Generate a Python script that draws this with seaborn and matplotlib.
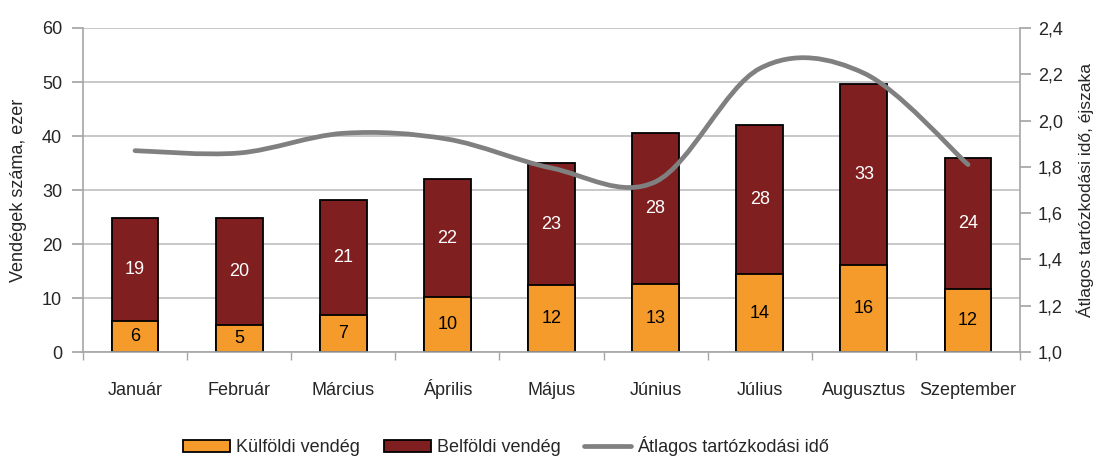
import numpy as np
import pandas as pd
import matplotlib
matplotlib.use("Agg")
import matplotlib.pyplot as plt
import seaborn as sns
from matplotlib.path import Path
from matplotlib.patches import PathPatch, Patch
from matplotlib.lines import Line2D
from matplotlib.ticker import FuncFormatter

# ==================== adatok ====================
honapok = ["Január", "Február", "Március", "Április", "Május",
           "Június", "Július", "Augusztus", "Szeptember"]
kulfoldi = [5.7, 5.0, 6.9, 10.2, 12.4, 12.6, 14.4, 16.2, 11.6]
belfoldi = [19.1, 19.8, 21.2, 21.8, 22.6, 28.0, 27.7, 33.4, 24.3]
atlag_ido = [1.87, 1.86, 1.945, 1.92, 1.795, 1.736, 2.225, 2.205, 1.81]

NARANCS = "#F59B2B"
BORDO = "#7F1F1F"
SZURKE = "#808080"
RACS = "#BFBFBF"
TENGELY = "#A6A6A6"

sns.set_theme(style="white")
plt.rcParams["font.family"] = ["Liberation Sans", "DejaVu Sans"]

df = pd.DataFrame({"honap": honapok, "kulfoldi": kulfoldi, "belfoldi": belfoldi})
df["osszes"] = df["kulfoldi"] + df["belfoldi"]

fig, ax = plt.subplots(figsize=(11.03, 4.59), dpi=100)
fig.subplots_adjust(left=0.0752, right=0.9248, top=0.939, bottom=0.233)

# rácsvonalak
ax.set_axisbelow(True)
ax.yaxis.grid(True, color=RACS, linewidth=1.2)

# halmozott oszlopok: teljes (bordó), rá a külföldi (narancs)
sns.barplot(data=df, x="honap", y="osszes", color=BORDO, width=0.45,
            edgecolor="black", linewidth=1.3, saturation=1, ax=ax)
sns.barplot(data=df, x="honap", y="kulfoldi", color=NARANCS, width=0.45,
            edgecolor="black", linewidth=1.3, saturation=1, ax=ax)

# címkék
for i, (k, b) in enumerate(zip(kulfoldi, belfoldi)):
    ax.text(i, k / 2, f"{round(k)}", ha="center", va="center",
            fontsize=13, color="black")
    ax.text(i, k + b / 2, f"{round(b)}", ha="center", va="center",
            fontsize=13, color="white")

ax.set_xlim(-0.5, len(honapok) - 0.5)
ax.set_ylim(0, 60)
ax.set_yticks(range(0, 61, 10))
ax.set_xlabel("")
ax.set_ylabel("Vendégek száma, ezer", fontsize=13, labelpad=11)
ax.tick_params(axis="y", labelsize=13, length=8, color=TENGELY, left=True, pad=7)
ax.tick_params(axis="x", labelsize=13, length=0, pad=31)
for lab in ax.get_xticklabels():
    lab.set_verticalalignment("baseline")
# kategóriahatárok jelölése
ax.set_xticks(np.arange(-0.5, len(honapok), 1), minor=True)
ax.tick_params(axis="x", which="minor", length=6, color=TENGELY, bottom=True)

for s in ["top", "right"]:
    ax.spines[s].set_visible(False)
for s in ["left", "bottom"]:
    ax.spines[s].set_color(TENGELY)
    ax.spines[s].set_linewidth(1.2)

# jobb tengely: átlagos tartózkodási idő, simított vonal (Excel-szerű Bezier)
ax2 = ax.twinx()
ax2.set_ylim(1.0, 2.4)
ax2.set_yticks(np.arange(1.0, 2.41, 0.2))
ax2.yaxis.set_major_formatter(FuncFormatter(lambda v, p: f"{v:.1f}".replace(".", ",")))
ax2.tick_params(axis="y", labelsize=13, length=8, color=TENGELY, right=True, pad=5)
ax2.set_ylabel("Átlagos tartózkodási idő, éjszaka", fontsize=12.5, rotation=90, labelpad=10)
for s in ["top", "left", "bottom"]:
    ax2.spines[s].set_visible(False)
ax2.spines["right"].set_color(TENGELY)
ax2.spines["right"].set_linewidth(1.2)
ax2.grid(False)

pts = np.column_stack([np.arange(len(atlag_ido)), atlag_ido])
ext = np.vstack([pts[0], pts, pts[-1]])
verts = [pts[0]]
codes = [Path.MOVETO]
for j in range(1, len(ext) - 2):
    p0, p1, p2, p3 = ext[j - 1], ext[j], ext[j + 1], ext[j + 2]
    verts += [p1 + (p2 - p0) / 6, p2 - (p3 - p1) / 6, p2]
    codes += [Path.CURVE4] * 3
ax2.add_patch(PathPatch(Path(verts, codes), facecolor="none", edgecolor=SZURKE,
                        linewidth=3.4, capstyle="round", joinstyle="round"))

# jelmagyarázat
handles = [Patch(facecolor=NARANCS, edgecolor="black", linewidth=1.3),
           Patch(facecolor=BORDO, edgecolor="black", linewidth=1.3),
           Line2D([], [], color=SZURKE, linewidth=3.4, solid_capstyle="round")]
labels = ["Külföldi vendég", "Belföldi vendég", "Átlagos tartózkodási idő"]
fig.legend(handles, labels, loc="center", bbox_to_anchor=(0.459, 0.028), ncol=3,
           frameon=False, fontsize=13, handlelength=2.6, handleheight=0.65,
           handletextpad=0.35, columnspacing=1.3)

plt.savefig("out.png", dpi=100)
